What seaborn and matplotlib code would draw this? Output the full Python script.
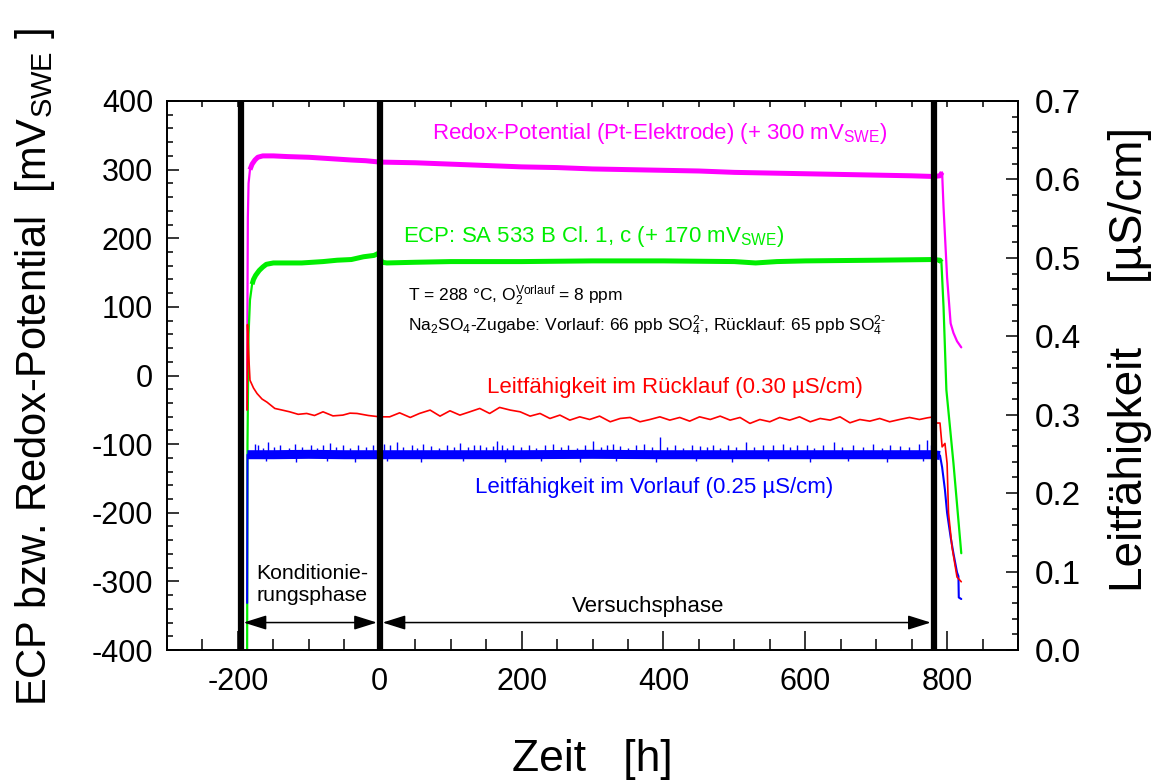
import matplotlib
matplotlib.use("Agg")
import matplotlib.pyplot as plt
import seaborn as sns
import pandas as pd
from matplotlib.ticker import MultipleLocator, FormatStrFormatter, NullFormatter

# ---------------- data ----------------
redox_t = [-187, -186.5, -186, -185, -183, -180, -176, -172, -165, -150, -130, -100, -70, -40, -20, 0,
           50, 100, 150, 200, 250, 300, 350, 400, 450, 500, 550, 600, 650, 700, 750, 781,
           790, 793, 795, 800, 805, 809, 814, 820]
redox_mv = [-50, 120, 230, 280, 300, 308, 314, 318, 320, 320, 319, 318, 316, 314, 313, 311,
            310, 308, 306, 304, 303, 301, 300, 299, 298, 296, 295, 294, 293, 292, 291, 290,
            291, 296, 245, 143, 76, 62, 50, 41]

ecp_t = [-187, -186.5, -185, -183, -180, -178, -175, -170, -165, -160, -150, -140, -110, -80, -60, -40,
         -23, -8, -2, 3, 10, 50, 100, 200, 300, 400, 500, 530, 545, 560, 600, 700, 781,
         790, 792, 795, 799, 809, 820]
ecp_mv = [-400, -100, 60, 110, 133, 140, 146, 153, 158, 162, 164, 164, 164, 166, 168, 169,
          173, 175, 178, 165, 164, 165, 166, 166, 167, 167, 166, 164, 165, 166, 167, 168, 169,
          168, 165, 100, -21, -128, -259]

rueck_t = [-187, -186.5, -185, -183, -178, -173, -166, -159, -148, -138, -127, -115, -103, -92, -80,
           -66, -52, -42, -32, -16, 0, 14, 28, 43, 56, 71, 85, 99, 113, 127, 141, 155, 169, 184,
           198, 212, 226, 240, 254, 268, 282, 296, 310, 325, 339, 353, 367, 381, 395, 409, 423,
           437, 451, 466, 480, 494, 508, 522, 536, 550, 564, 578, 592, 607, 621, 635, 649, 663,
           677, 691, 705, 719, 733, 747, 761, 772, 779, 784, 790, 793, 797, 800, 802, 807, 814, 820]
rueck_us = [0.306, 0.415, 0.380, 0.344, 0.334, 0.327, 0.320, 0.316, 0.308, 0.306, 0.3037, 0.3005,
            0.3016, 0.2990, 0.3037, 0.2985, 0.2995, 0.3020, 0.3016, 0.2990, 0.2973, 0.2973, 0.3024,
            0.2965, 0.3016, 0.3059, 0.2982, 0.3050, 0.2995, 0.3037, 0.3080, 0.3016, 0.3093, 0.3059,
            0.3037, 0.2982, 0.3016, 0.2952, 0.2995, 0.2931, 0.2973, 0.2939, 0.2982, 0.2910, 0.2952,
            0.2965, 0.2910, 0.2939, 0.2973, 0.2931, 0.2965, 0.2918, 0.2973, 0.2939, 0.2982, 0.2931,
            0.2965, 0.2889, 0.2939, 0.2910, 0.2965, 0.2931, 0.2973, 0.2910, 0.2952, 0.2931, 0.2973,
            0.2897, 0.2939, 0.2918, 0.2952, 0.2910, 0.2939, 0.2965, 0.2939, 0.2960, 0.2970, 0.2894,
            0.2894, 0.259, 0.2634, 0.238, 0.175, 0.131, 0.093, 0.087]

vor_t = [-187, -186.5, -180, -150, -100, -50, 0, 100, 200, 300, 400, 500, 600, 700, 780, 790,
         793, 797, 800, 805, 809, 814, 816, 816.5, 820]
vor_us = [0.060, 0.249, 0.249, 0.249, 0.2495, 0.249, 0.249, 0.249, 0.249, 0.2495, 0.249, 0.249,
          0.249, 0.249, 0.249, 0.248, 0.233, 0.204, 0.175, 0.144, 0.123, 0.099, 0.094, 0.067, 0.065]

# noise spikes of the Vorlauf signal (up and down)
vor_spike_t = [-176, -172, -165, -158, -149, -141, -128, -120, -109, -97, -88, -80, -70, -61, -52,
               -42, -30, -19, -9, 6, 14, 24, 33, 45, 53, 61, 72, 84, 95, 104, 113, 124, 133, 141,
               150, 160, 165, 172, 180, 188, 199, 210, 221, 233, 245, 256, 266, 278, 289, 301, 312,
               321, 329, 339, 350, 361, 372, 384, 395, 405, 417, 428, 440, 452, 461, 470, 480, 491,
               503, 517, 528, 540, 555, 569, 579, 588, 602, 613, 625, 640, 652, 668, 681, 696, 708,
               720, 733, 746, 760, 772, 778]
vor_spike_us = [0.263, 0.262, 0.258, 0.265, 0.259, 0.262, 0.258, 0.263, 0.259, 0.261, 0.258, 0.262,
                0.264, 0.259, 0.261, 0.258, 0.262, 0.259, 0.261, 0.263, 0.262, 0.265, 0.259, 0.262,
                0.258, 0.263, 0.260, 0.258, 0.261, 0.259, 0.264, 0.259, 0.261, 0.262, 0.259, 0.260,
                0.266, 0.262, 0.258, 0.261, 0.259, 0.262, 0.258, 0.261, 0.263, 0.259, 0.261, 0.258,
                0.262, 0.266, 0.259, 0.261, 0.263, 0.260, 0.258, 0.262, 0.263, 0.259, 0.271, 0.259,
                0.261, 0.258, 0.262, 0.260, 0.259, 0.262, 0.258, 0.261, 0.259, 0.265, 0.259, 0.261,
                0.262, 0.263, 0.259, 0.261, 0.262, 0.258, 0.261, 0.265, 0.259, 0.262, 0.259, 0.263,
                0.258, 0.262, 0.260, 0.259, 0.263, 0.268, 0.262]
vor_dip_t = [-160, -118, -75, -35, 10, 58, 118, 176, 228, 283, 333, 389, 446, 497, 548, 606, 660,
             715, 766]
vor_dip_us = [0.241, 0.240, 0.241, 0.240, 0.241, 0.240, 0.241, 0.240, 0.241, 0.240, 0.241, 0.240,
              0.241, 0.240, 0.241, 0.240, 0.241, 0.240, 0.241]
vor_base_us = 0.249

phase_bounds = [-196, 0, 782]
x_major = [-200, 0, 200, 400, 600, 800]
left_major = [-400, -300, -200, -100, 0, 100, 200, 300, 400]
right_major = [0.0, 0.1, 0.2, 0.3, 0.4, 0.5, 0.6, 0.7]

# ---------------- style ----------------
sns.set_style("ticks")
plt.rcParams["font.family"] = ["Liberation Sans", "DejaVu Sans"]
plt.rcParams["mathtext.fontset"] = "custom"
plt.rcParams["mathtext.rm"] = "Liberation Sans"
plt.rcParams["mathtext.it"] = "Liberation Sans:italic"
plt.rcParams["mathtext.bf"] = "Liberation Sans:bold"
plt.rcParams["mathtext.default"] = "regular"
plt.rcParams["axes.unicode_minus"] = False
plt.rcParams["text.color"] = "black"
plt.rcParams["axes.labelcolor"] = "black"
plt.rcParams["xtick.color"] = "black"
plt.rcParams["ytick.color"] = "black"

MAG, GRN, RED, BLU = "#ff00ff", "#00ee00", "#ff0000", "#0000ff"

fig = plt.figure(figsize=(11.53, 7.83), dpi=100)
ax = fig.add_axes([167 / 1153, 1 - 650 / 783, 851 / 1153, 549 / 783])
ax2 = ax.twinx()

df_redox = pd.DataFrame({"t": redox_t, "v": redox_mv})
df_ecp = pd.DataFrame({"t": ecp_t, "v": ecp_mv})
df_rueck = pd.DataFrame({"t": rueck_t, "v": rueck_us})
df_vor = pd.DataFrame({"t": vor_t, "v": vor_us})

# left axis series
sns.lineplot(data=df_redox, x="t", y="v", ax=ax, color=MAG, lw=1.6, sort=False, estimator=None)
sns.lineplot(data=df_redox[(df_redox.t >= -183) & (df_redox.t <= 793)], x="t", y="v", ax=ax,
             color=MAG, lw=3.6, sort=False, estimator=None, solid_capstyle="butt")
sns.lineplot(data=df_ecp, x="t", y="v", ax=ax, color=GRN, lw=1.6, sort=False, estimator=None)
sns.lineplot(data=df_ecp[(df_ecp.t >= -180) & (df_ecp.t <= 792)], x="t", y="v", ax=ax,
             color=GRN, lw=3.6, sort=False, estimator=None, solid_capstyle="butt")

# right axis series
sns.lineplot(data=df_vor, x="t", y="v", ax=ax2, color=BLU, lw=1.5, sort=False, estimator=None)
sns.lineplot(data=df_vor[(df_vor.t >= -186.5) & (df_vor.t <= 790)], x="t", y="v", ax=ax2,
             color=BLU, lw=6.5, sort=False, estimator=None, solid_capstyle="butt")
ax2.vlines(vor_spike_t, vor_base_us, vor_spike_us, color=BLU, lw=1.0)
ax2.vlines(vor_dip_t, vor_dip_us, vor_base_us, color=BLU, lw=1.0)
sns.lineplot(data=df_rueck, x="t", y="v", ax=ax2, color=RED, lw=1.2, sort=False, estimator=None)

# limits / ticks
ax.set_xlim(-300, 900)
ax.set_ylim(-400, 400)
ax2.set_ylim(0.0, 0.7)
ax.set_xticks(x_major)
ax.set_yticks(left_major)
ax2.set_yticks(right_major)
ax.xaxis.set_minor_locator(MultipleLocator(50))
ax.yaxis.set_minor_locator(MultipleLocator(20))
ax2.yaxis.set_minor_locator(MultipleLocator(0.02))
ax2.yaxis.set_major_formatter(FormatStrFormatter("%.1f"))

ax.tick_params(axis="x", which="major", direction="in", length=14, width=1.1, labelsize=22, pad=12,
               top=False, bottom=True, colors="black")
ax.tick_params(axis="x", which="minor", direction="in", length=8, width=1.1, top=False, bottom=True)
ax.tick_params(axis="y", which="major", direction="in", length=8.5, width=1.1, labelsize=22, pad=10,
               left=True, right=False, colors="black")
ax.tick_params(axis="y", which="minor", direction="in", length=4.3, width=1.1, left=True, right=False)
ax2.tick_params(axis="y", which="major", direction="in", length=8.5, width=1.1, labelsize=24, pad=12,
                colors="black")
ax2.tick_params(axis="y", which="minor", direction="in", length=4.3, width=1.1)

# short ticks along the top edge every 50 h
ax3 = ax.twiny()
ax3.set_xlim(ax.get_xlim())
ax3.xaxis.set_major_locator(MultipleLocator(50))
ax3.xaxis.set_major_formatter(NullFormatter())
ax3.tick_params(axis="x", which="both", direction="in", length=4.5, width=1.1, top=True,
                bottom=False, labeltop=False, colors="black")
ax3.tick_params(axis="y", which="both", left=False, right=False, labelleft=False, labelright=False)

for a in (ax, ax2, ax3):
    for s in a.spines.values():
        s.set_linewidth(1.1)
        s.set_color("black")

ax.set_xlabel("Zeit   [h]", fontsize=32, va="center")
ax.xaxis.set_label_coords(0.5, -0.2)
ax.set_ylabel("ECP bzw. Redox-Potential  [mV$_{SWE}$ ]", fontsize=30, va="center")
ax.yaxis.set_label_coords(-0.155, 0.515)
ax2.set_ylabel("Leitfähigkeit     [µS/cm]", fontsize=33, va="center")
ax2.yaxis.set_label_coords(1.1316, 0.53)

# phase boundaries (drawn on top)
for xb in phase_bounds:
    ax2.axvline(xb, color="black", lw=4.5, zorder=10, solid_capstyle="round")

tr = ax.transData
arrow_kw = dict(arrowstyle="<|-|>,head_length=0.7,head_width=0.22", color="black", lw=1.1,
                shrinkA=0, shrinkB=0, mutation_scale=20)
ax2.annotate("", xy=(-192, -360), xytext=(-4, -360), xycoords=tr, textcoords=tr, arrowprops=arrow_kw,
             zorder=11)
ax2.annotate("", xy=(4, -360), xytext=(777, -360), xycoords=tr, textcoords=tr, arrowprops=arrow_kw,
             zorder=11)

ax2.text(-174, -305, "Konditionie-\nrungsphase", transform=tr, fontsize=15.3, va="center", ha="left",
         linespacing=1.2, zorder=11, color="black")
ax2.text(378, -336, "Versuchsphase", transform=tr, fontsize=16, va="center", ha="center", zorder=11,
         color="black")

ax2.text(74, 353, "Redox-Potential (Pt-Elektrode) (+ 300 mV$_{SWE}$)", transform=tr, color=MAG,
         fontsize=16, va="center", ha="left")
ax2.text(33, 202, "ECP: SA 533 B Cl. 1, c (+ 170 mV$_{SWE}$)", transform=tr, color=GRN,
         fontsize=16, va="center", ha="left")
ax2.text(40, 116, "T = 288 °C, O$_2^{Vorlauf}$ = 8 ppm", transform=tr, color="black",
         fontsize=12.5, va="center", ha="left")
ax2.text(40, 72, "Na$_2$SO$_4$-Zugabe: Vorlauf: 66 ppb SO$_4^{2\\text{-}}$, Rücklauf: 65 ppb SO$_4^{2\\text{-}}$",
         transform=tr, color="black", fontsize=12.5, va="center", ha="left")
ax2.text(151, -17, "Leitfähigkeit im Rücklauf (0.30 µS/cm)", transform=tr, color=RED,
         fontsize=16, va="center", ha="left")
ax2.text(134, -163, "Leitfähigkeit im Vorlauf (0.25 µS/cm)", transform=tr, color=BLU,
         fontsize=16, va="center", ha="left")

fig.savefig("out.png", dpi=100)
